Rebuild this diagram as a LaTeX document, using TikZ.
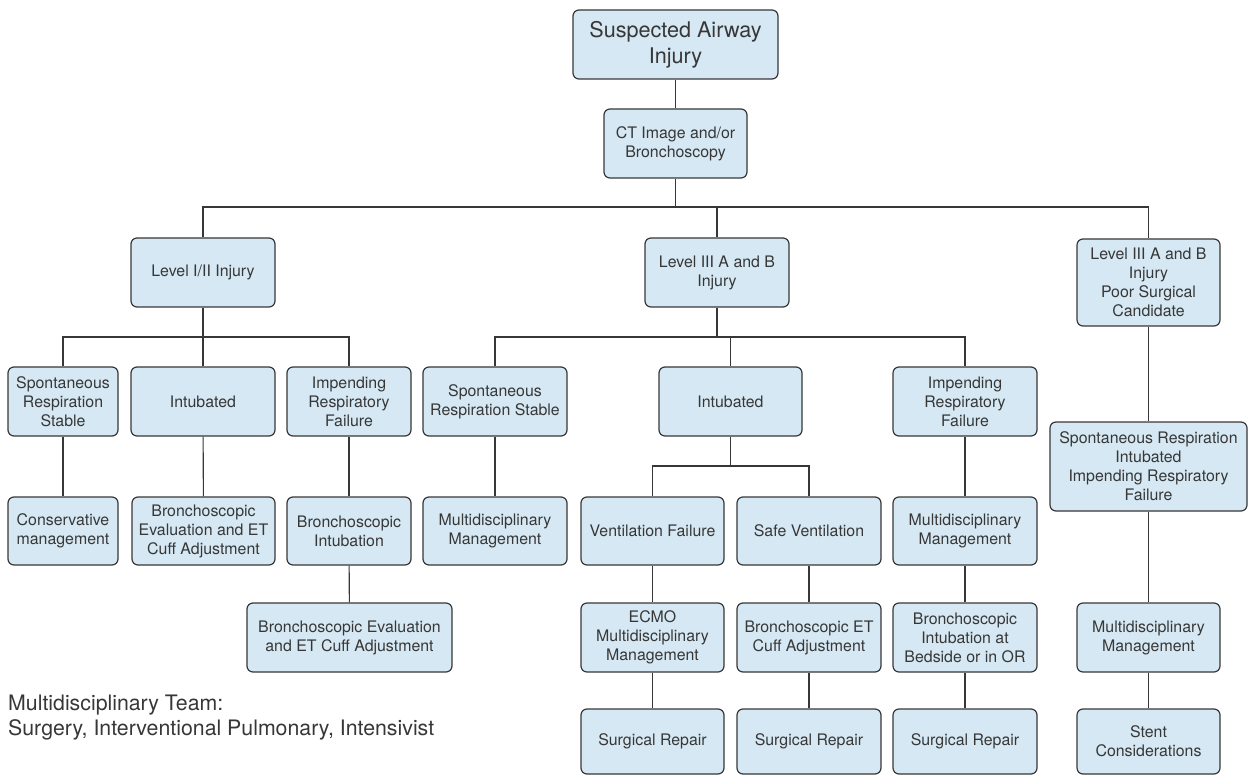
\documentclass[tikz,border=0pt]{standalone}
\usepackage{fontspec}
\setmainfont{TeX Gyre Heros}
\definecolor{boxfill}{RGB}{214,232,243}
\definecolor{ink}{RGB}{55,55,55}
\begin{document}
\begin{tikzpicture}[x=1pt,y=-1pt,
  box/.style={draw=ink, fill=boxfill, rounded corners=6pt, line width=1.2pt, text=ink, align=center, inner sep=0pt, font=\fontsize{15.9}{19}\selectfont},
  sz/.style 2 args={minimum width=#1pt, minimum height=#2pt},
  link/.style={draw=ink, line width=1.1pt},
  note/.style={text=ink, inner sep=0pt, anchor=base west, font=\fontsize{21.3}{25}\selectfont}]
\useasboundingbox (0,0) rectangle (1250,775);

% top
\node[box, sz={205}{69}, font=\fontsize{21.6}{26}\selectfont] (A) at (675.5,44.5) {Suspected Airway\\Injury};
\node[box, sz={143}{69}] (B) at (675.5,143.5) {CT Image and/or\\Bronchoscopy};

% level row
\node[box, sz={144}{69}] (L1) at (203,272.5) {Level I/II Injury};
\node[box, sz={144}{69}] (L2) at (717,272.5) {Level III A and B\\Injury};
\node[box, sz={143}{87}] (L3) at (1148.5,282.5) {Level III A and B\\Injury\\Poor Surgical\\Candidate};

% row 2
\node[box, sz={110}{69}] (a1) at (63,401.5) {Spontaneous\\Respiration\\Stable};
\node[box, sz={144}{69}] (a2) at (203,401.5) {Intubated};
\node[box, sz={124}{69}] (a3) at (349,401.5) {Impending\\Respiratory\\Failure};
\node[box, sz={144}{69}] (b1) at (495,401.5) {Spontaneous\\Respiration Stable};
\node[box, sz={143}{69}] (b2) at (730.5,401.5) {Intubated};
\node[box, sz={144}{69}] (b3) at (965,401.5) {Impending\\Respiratory\\Failure};
\node[box, sz={197}{89}] (c1) at (1148.5,466.5) {Spontaneous Respiration\\Intubated\\Impending Respiratory\\Failure};

% row 3
\node[box, sz={110}{68}] (a1b) at (63,531) {Conservative\\management};
\node[box, sz={143}{68}] (a2b) at (203.5,531) {Bronchoscopic\\Evaluation and ET\\Cuff Adjustment};
\node[box, sz={124}{68}] (a3b) at (349,531) {Bronchoscopic\\Intubation};
\node[box, sz={144}{68}] (b1b) at (495,531) {Multidisciplinary\\Management};
\node[box, sz={143}{68}] (vf) at (652.5,531) {Ventilation Failure};
\node[box, sz={144}{68}] (sv) at (809,531) {Safe Ventilation};
\node[box, sz={144}{68}] (b3b) at (965,531) {Multidisciplinary\\Management};

% row 4
\node[box, sz={205}{69}] (a3c) at (349.5,637.5) {Bronchoscopic Evaluation\\and ET Cuff Adjustment};
\node[box, sz={143}{69}] (vfc) at (652.5,637.5) {ECMO\\Multidisciplinary\\Management};
\node[box, sz={144}{69}] (svc) at (809,637.5) {Bronchoscopic ET\\Cuff Adjustment};
\node[box, sz={144}{69}] (b3c) at (965,637.5) {Bronchoscopic\\Intubation at\\Bedside or in OR};
\node[box, sz={143}{69}] (c1c) at (1148.5,637.5) {Multidisciplinary\\Management};

% row 5
\node[box, sz={143}{65}] (vfd) at (652.5,741.5) {Surgical Repair};
\node[box, sz={144}{65}] (svd) at (809,741.5) {Surgical Repair};
\node[box, sz={144}{65}] (b3d) at (965,741.5) {Surgical Repair};
\node[box, sz={143}{65}] (c1d) at (1148.5,741.5) {Stent\\Considerations};

% note
\node[note] (n1) at (8,710) {Multidisciplinary Team:};
\node[note] (n2) at (8,735) {Surgery, Interventional Pulmonary, Intensivist};

% junctions
\coordinate (j0) at (675.5,207);
\coordinate (j1) at (203,337);
\coordinate (j2) at (717,337);
\coordinate (j3) at (730.5,466);

% connectors
\draw[link] (A) -- (B);
\draw[link] (B) -- (j0);
\draw[link] (L1.north) |- (j0) -| (L3.north);
\draw[link] (j0) -| (L2.north);

\draw[link] (L1) -- (j1);
\draw[link] (a1.north) |- (j1) -| (a3.north);
\draw[link] (j1) -- (a2.north);

\draw[link] (L2) -- (j2);
\draw[link] (b1.north) |- (j2) -| (b3.north);
\draw[link] (j2) -| (b2.north);

\draw[link] (a1) -- (a1b);
\draw[link] (a2) -- (a2b);
\draw[link] (a3) -- (a3b);
\draw[link] (a3b) -- (a3c);

\draw[link] (b1) -- (b1b);
\draw[link] (b2) -- (j3);
\draw[link] (vf.north) |- (j3) -| (sv.north);
\draw[link] (vf) -- (vfc);
\draw[link] (vfc) -- (vfd);
\draw[link] (sv) -- (svc);
\draw[link] (svc) -- (svd);

\draw[link] (b3) -- (b3b);
\draw[link] (b3b) -- (b3c);
\draw[link] (b3c) -- (b3d);

\draw[link] (L3) -- (c1);
\draw[link] (c1) -- (c1c);
\draw[link] (c1c) -- (c1d);
\end{tikzpicture}
\end{document}
